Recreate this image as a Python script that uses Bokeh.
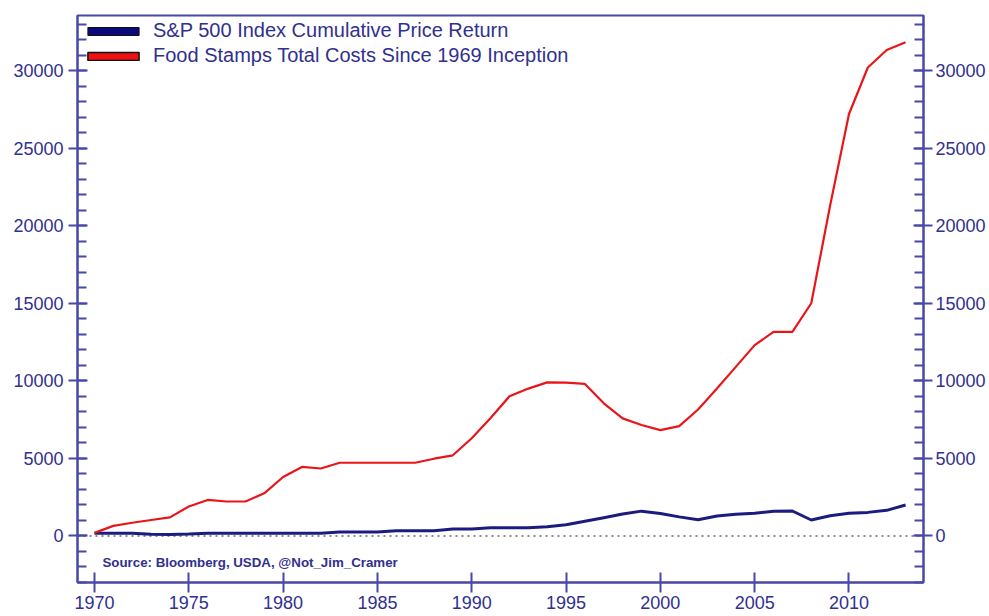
from bokeh.plotting import figure
from bokeh.models import (Range1d, LinearAxis, FixedTicker, Span, Label,
                          Legend, LegendItem, ColumnDataSource)
from bokeh.embed import file_html
from bokeh.resources import INLINE

# ---------------- data ----------------
years = list(range(1970, 2014))
food_stamps = [200, 650, 850, 1030, 1200, 1900, 2320, 2220, 2220, 2750,
               3800, 4450, 4350, 4720, 4720, 4720, 4720, 4720, 4980, 5200,
               6300, 7600, 9000, 9500, 9900, 9880, 9800, 8550, 7580, 7150,
               6820, 7080, 8150, 9500, 10900, 12300, 13150, 13150, 15000, 21300,
               27200, 30200, 31330, 31820]
sp500 = [170, 170, 170, 110, 90, 120, 170, 170, 170, 170,
         170, 170, 170, 250, 250, 250, 330, 330, 330, 450,
         450, 530, 530, 530, 600, 720, 950, 1180, 1410, 1600,
         1450, 1230, 1050, 1290, 1400, 1460, 1600, 1610, 1030, 1300,
         1460, 1520, 1650, 2000]
x_ticks = [1970, 1975, 1980, 1985, 1990, 1995, 2000, 2005, 2010]
y_ticks = [0, 5000, 10000, 15000, 20000, 25000, 30000]
y_minor_ticks = list(range(-3000, 34000, 1000))
series_labels = ["S&P 500 Index Cumulative Price Return",
                 "Food Stamps Total Costs Since 1969 Inception"]
source_note = "Source: Bloomberg, USDA, @Not_Jim_Cramer"
zero_level = 0

# ---------------- style ----------------
AXIS = "#4848a8"
TEXT = "#30308f"
RED = "#e8161b"
NAVY = "#1c1c80"
FONT = "Liberation Sans"

p = figure(width=988, height=616, output_backend="svg", toolbar_location=None,
           x_range=Range1d(1969.1, 2013.95), y_range=Range1d(-3000, 33550),
           min_border_left=77, min_border_top=15, min_border_right=64,
           min_border_bottom=34)
p.grid.visible = False
p.background_fill_color = "white"
p.border_fill_color = "white"
p.outline_line_color = AXIS
p.outline_line_width = 2
p.outline_line_alpha = 1.0

right_axis = LinearAxis()
p.add_layout(right_axis, "right")

p.xaxis.ticker = FixedTicker(ticks=x_ticks, minor_ticks=[])
for ax in [p.yaxis[0], right_axis]:
    ax.ticker = FixedTicker(ticks=y_ticks, minor_ticks=y_minor_ticks)

def style_axis(ax, tick_out, standoff):
    ax.axis_line_color = AXIS
    ax.axis_line_width = 2
    ax.major_tick_line_color = AXIS
    ax.major_tick_line_width = 2
    ax.minor_tick_line_color = AXIS
    ax.minor_tick_line_width = 2
    ax.major_tick_in = 10
    ax.major_tick_out = tick_out
    ax.minor_tick_in = 9
    ax.minor_tick_out = 0
    ax.major_label_text_font = FONT
    ax.major_label_text_font_size = "18px"
    ax.major_label_text_color = TEXT
    ax.major_label_standoff = standoff

style_axis(p.xaxis[0], 10, 3)
style_axis(p.yaxis[0], 9, 5)
style_axis(right_axis, 9, 3)

zero_line = Span(location=zero_level, dimension="width", line_color="#8a8a8a",
                 line_width=2, line_dash="2 4", level="underlay")
p.add_layout(zero_line)

p.line(years, sp500, line_color=NAVY, line_width=3)
p.line(years, food_stamps, line_color=RED, line_width=2.2)

# legend swatches (legend-only renderers: one undefined (NaN) row, never drawn)
nan = float("nan")
sw_src = ColumnDataSource(dict(l=[nan], r=[nan], t=[nan], b=[nan]))
sp_sw = p.quad(left="l", right="r", top="t", bottom="b", source=sw_src,
               fill_color="#0a0a78", line_color="#111111", line_width=1)
fs_sw = p.quad(left="l", right="r", top="t", bottom="b", source=sw_src,
               fill_color="#ee1111", line_color="#111111", line_width=1.5)

legend = Legend(items=[LegendItem(label=series_labels[0], renderers=[sp_sw]),
                       LegendItem(label=series_labels[1], renderers=[fs_sw])],
                location="top_left", margin=0, padding=4,
                glyph_width=64, glyph_height=10, label_standoff=8,
                label_height=20, spacing=2,
                label_text_font=FONT, label_text_font_size="20px",
                label_text_color=TEXT,
                background_fill_alpha=0, border_line_alpha=0)
p.add_layout(legend)

note = Label(x=25, y=20, x_units="screen", y_units="screen", text=source_note,
             text_font=FONT, text_font_size="13.3px", text_font_style="bold",
             text_color=TEXT, text_baseline="middle")
p.add_layout(note)

open("out.html", "w").write(file_html(p, INLINE))
